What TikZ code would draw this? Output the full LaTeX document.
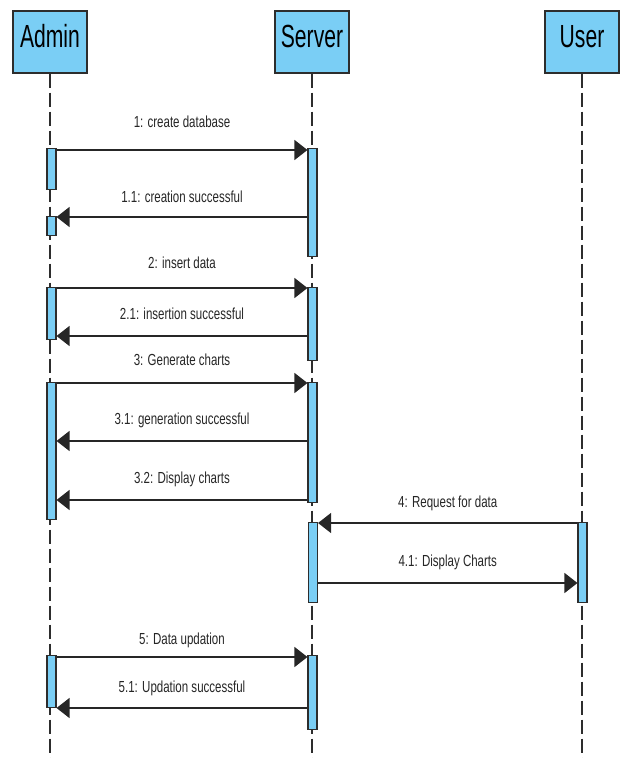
\documentclass[tikz,border=0pt]{standalone}
\usepackage{fontspec}
\setmainfont{Liberation Sans}
\newfontfamily\headfont[FakeStretch=0.66]{Liberation Sans}
\newfontfamily\msgfont[FakeStretch=0.72]{Liberation Sans}
\usetikzlibrary{arrows.meta}
\definecolor{actfill}{RGB}{122,206,245}
\definecolor{edge}{RGB}{45,45,45}
\begin{document}
\begin{tikzpicture}[x=1pt,y=-1pt,
  lifehead/.style={draw=edge,line width=1.4pt,fill=actfill,minimum width=74pt,
    minimum height=62pt,inner sep=0pt,text height=23pt,text depth=12pt,
    font=\headfont\fontsize{32pt}{34pt}\selectfont},
  lifeline/.style={draw=edge,line width=1.1pt,dash pattern=on 14pt off 5pt},
  act/.style={draw=edge,line width=1.1pt,fill=actfill,minimum width=9pt,inner sep=0pt,anchor=north},
  msg/.style={draw=black!85,line width=1.3pt,-{Triangle[length=13pt,width=20pt]}},
  lbl/.style={midway,anchor=base,font=\msgfont\fontsize{16pt}{18pt}\selectfont,text=black!85,inner sep=0pt}
]
\useasboundingbox (0,0) rectangle (626,758);

% participants
\node[lifehead] (admin)  at (50,42)  {Admin};
\node[lifehead] (server) at (312,42) {Server};
\node[lifehead] (user)   at (582,42) {User};

% lifelines
\coordinate (adminEnd)  at (50,758);
\coordinate (serverEnd) at (312,758);
\coordinate (userEnd)   at (582,758);
\draw[lifeline] (admin.south)  -- (adminEnd);
\draw[lifeline] (server.south) -- (serverEnd);
\draw[lifeline] (user.south)   -- (userEnd);

% activation bars
\node[act,minimum height=41pt]  (a1) at (51.5,148) {};
\node[act,minimum height=19pt]  (a2) at (51.5,216) {};
\node[act,minimum height=52pt]  (a3) at (51.5,287) {};
\node[act,minimum height=137pt] (a4) at (51.5,382) {};
\node[act,minimum height=52pt]  (a5) at (51.5,655) {};

\node[act,minimum height=108pt] (s1) at (312.5,148) {};
\node[act,minimum height=73pt]  (s2) at (312.5,287) {};
\node[act,minimum height=120pt] (s3) at (312.5,382) {};
\node[act,minimum height=80pt]  (s4) at (313,522) {};
\node[act,minimum height=74pt]  (s5) at (312.5,655) {};

\node[act,minimum height=80pt]  (u1) at (582.5,522) {};

% messages
\draw[msg] (a1.east |- 0,150) -- (s1.west |- 0,150)
  node[lbl,yshift=23pt] {1: create database};
\draw[msg] (s1.west |- 0,217) -- (a2.east |- 0,217)
  node[lbl,yshift=15pt] {1.1: creation successful};
\draw[msg] (a3.east |- 0,288) -- (s2.west |- 0,288)
  node[lbl,yshift=20pt] {2: insert data};
\draw[msg] (s2.west |- 0,336) -- (a3.east |- 0,336)
  node[lbl,yshift=17pt] {2.1: insertion successful};
\draw[msg] (a4.east |- 0,383) -- (s3.west |- 0,383)
  node[lbl,yshift=18pt] {3: Generate charts};
\draw[msg] (s3.west |- 0,441) -- (a4.east |- 0,441)
  node[lbl,yshift=17pt] {3.1: generation successful};
\draw[msg] (s3.west |- 0,500) -- (a4.east |- 0,500)
  node[lbl,yshift=17pt] {3.2: Display charts};
\draw[msg] (u1.west |- 0,523) -- (s4.east |- 0,523)
  node[lbl,yshift=16pt] {4: Request for data};
\draw[msg] (s4.east |- 0,583) -- (u1.west |- 0,583)
  node[lbl,yshift=17pt] {4.1: Display Charts};
\draw[msg] (a5.east |- 0,657) -- (s5.west |- 0,657)
  node[lbl,yshift=13pt] {5: Data updation};
\draw[msg] (s5.west |- 0,708) -- (a5.east |- 0,708)
  node[lbl,yshift=16pt] {5.1: Updation successful};
\end{tikzpicture}
\end{document}
